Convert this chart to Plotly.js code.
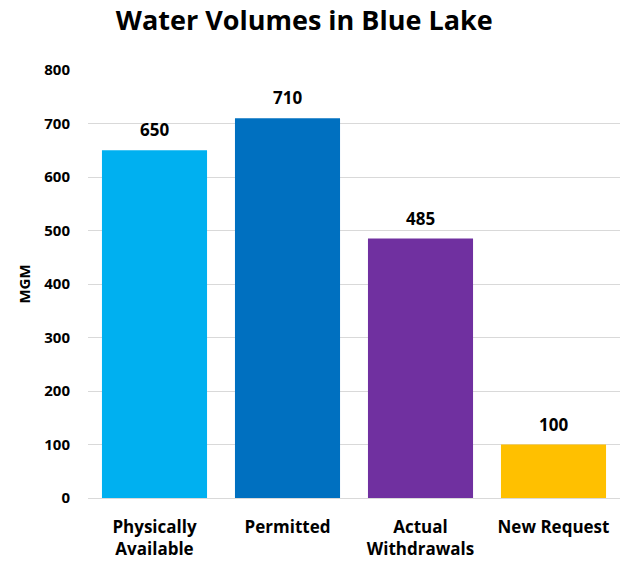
<!DOCTYPE html>
<html>
<head>
<meta charset="utf-8">
<script src="https://cdn.plot.ly/plotly-3.0.1.min.js"></script>
<style>html,body{margin:0;padding:0;background:#fff;}#chart{width:621px;height:563px;}</style>
</head>
<body>
<div id="chart"></div>
<script>
const categories = ["Physically<br>Available", "Permitted", "Actual<br>Withdrawals", "New Request"];
const values = [650, 710, 485, 100];
const colors = ["#00B0F0", "#0070C0", "#7030A0", "#FFC000"];
const yTicks = [0, 100, 200, 300, 400, 500, 600, 700, 800];

const font = "Open Sans, Lato, Arial, sans-serif";
const annotations = categories.map((c, i) => ({
  x: c, y: values[i], xref: "x", yref: "y", text: "<b>" + values[i] + "</b>",
  showarrow: false, yanchor: "bottom", yshift: 7,
  font: {family: font, size: 17, color: "#000"}
}));
Plotly.newPlot("chart", [{
  type: "bar",
  x: categories,
  y: values,
  marker: {color: colors},
  hoverinfo: "none"
}], {
  width: 621, height: 563,
  margin: {l: 88, r: 1, t: 70, b: 65},
  paper_bgcolor: "#fff", plot_bgcolor: "#fff",
  bargap: 0.21,
  showlegend: false,
  annotations: annotations,
  title: {text: "<b>Water Volumes in Blue Lake</b>", x: 0.49, xanchor: "center", y: 0.963, yanchor: "middle",
          font: {family: font, size: 27, color: "#000"}},
  xaxis: {tickfont: {family: font, size: 17, color: "#000", weight: "bold"}, showgrid: false,
          showline: false, ticks: "", ticklabelstandoff: 17},
  yaxis: {range: [0, 800], tickvals: yTicks, ticktext: yTicks.map(String),
          tickfont: {family: font, size: 15, color: "#000", weight: "bold"},
          gridcolor: "#d9d9d9", gridwidth: 1, zeroline: true, zerolinecolor: "#d9d9d9", zerolinewidth: 1,
          ticks: "", ticklabelstandoff: 17,
          title: {text: "<b>MGM</b>", font: {family: font, size: 15, color: "#000"}, standoff: 10}}
}, {displayModeBar: false, staticPlot: true});
</script>
</body>
</html>
